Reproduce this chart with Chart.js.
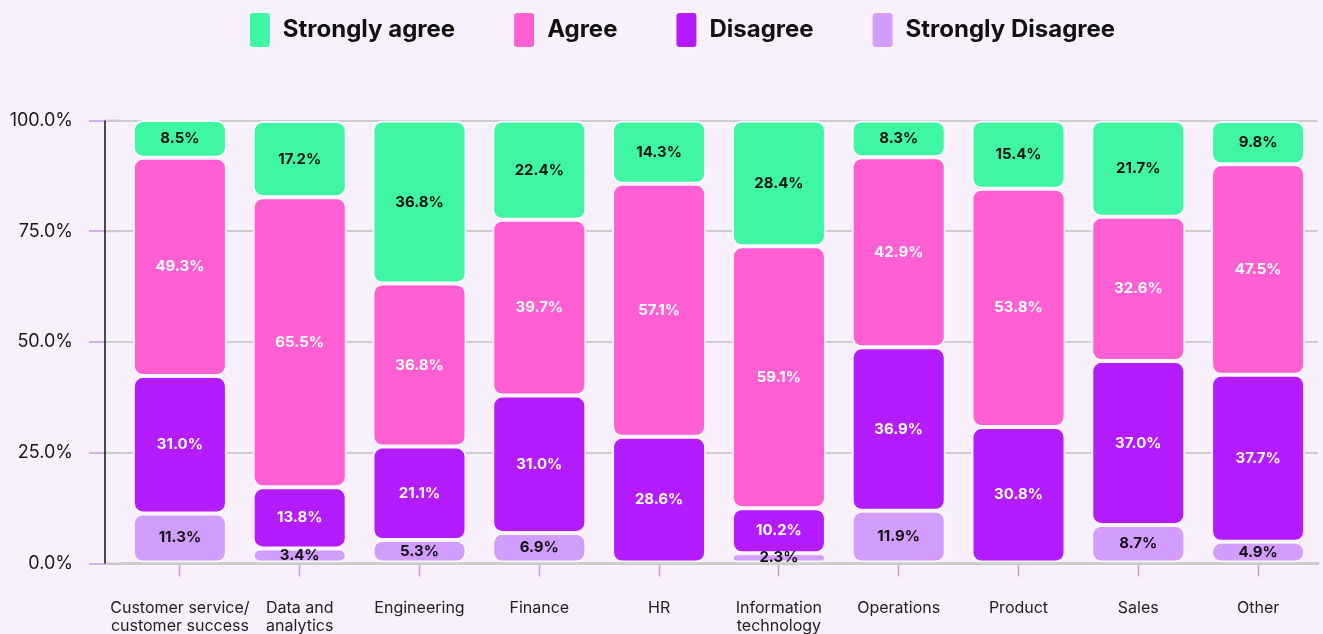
<!DOCTYPE html>
<html>
<head>
<meta charset="utf-8">
<script src="https://cdn.jsdelivr.net/npm/chart.js@4.4.1/dist/chart.umd.min.js"></script>
<style>
  html, body { margin: 0; padding: 0; background: #f8f0fd; }
  #wrap { width: 1323px; height: 634px; position: relative; }
</style>
</head>
<body>
<div id="wrap"><canvas id="grafico"></canvas></div>
<script>
const categories = [
  ["Customer service/", "customer success"],
  ["Data and", "analytics"],
  "Engineering",
  "Finance",
  "HR",
  ["Information", "technology"],
  "Operations",
  "Product",
  "Sales",
  "Other",
];
const stronglyAgree = [8.5, 17.2, 36.8, 22.4, 14.3, 28.4, 8.3, 15.4, 21.7, 9.8];
const agree = [49.3, 65.5, 36.8, 39.7, 57.1, 59.1, 42.9, 53.8, 32.6, 47.5];
const disagree = [31.0, 13.8, 21.1, 31.0, 28.6, 10.2, 36.9, 30.8, 37.0, 37.7];
const stronglyDisagree = [11.3, 3.4, 5.3, 6.9, 0, 2.3, 11.9, 0, 8.7, 4.9];
const yTicks = [0, 25, 50, 75, 100];

const gridColor = "#cdcdcd";
const tickColor = "#c99be0";

const radius = { topLeft: 10, topRight: 10, bottomLeft: 10, bottomRight: 10 };

function serie(label, data, color, textColor) {
  return {
    label,
    data,
    textColor,
    backgroundColor: color,
    borderColor: "#fbf6fe",
    borderWidth: 2,
    borderSkipped: false,
    borderRadius: radius,
    barPercentage: 0.785,
    categoryPercentage: 1,
    clip: 4,
  };
}

// values written inside each segment
const barLabels = {
  id: "barLabels",
  afterDatasetsDraw(chart) {
    const ctx = chart.ctx;
    ctx.save();
    ctx.font = "bold 15px Inter";
    ctx.textAlign = "center";
    ctx.textBaseline = "middle";
    chart.data.datasets.forEach((ds, i) => {
      chart.getDatasetMeta(i).data.forEach((bar, j) => {
        const v = ds.data[j];
        if (!v) return;
        ctx.fillStyle = ds.textColor;
        ctx.fillText(v.toFixed(1) + "%", bar.x, (bar.y + bar.base) / 2);
      });
    });
    ctx.restore();
  },
};

// black y line sits a bit left of the first category; legend nudged right
const yLine = {
  id: "yLine",
  afterLayout(chart) {
    chart.legend.left += 23;
    chart.legend.right += 23;
  },
  beforeDatasetsDraw(chart) {
    const { ctx, chartArea, scales } = chart;
    const x0 = chartArea.left - 15;
    ctx.save();
    ctx.strokeStyle = gridColor;
    ctx.lineWidth = 2;
    scales.y.ticks.forEach((t) => {
      const py = scales.y.getPixelForValue(t.value);
      ctx.beginPath();
      ctx.moveTo(x0, py);
      ctx.lineTo(chartArea.left, py);
      ctx.stroke();
    });
    ctx.strokeStyle = "#111";
    ctx.lineWidth = 1.5;
    ctx.beginPath();
    ctx.moveTo(x0, chartArea.top);
    ctx.lineTo(x0, chartArea.bottom);
    ctx.stroke();
    ctx.restore();
  },
};

new Chart(document.getElementById("grafico"), {
  type: "bar",
  data: {
    labels: categories,
    datasets: [
      serie("Strongly Disagree", stronglyDisagree, "#d39cff", "#111"),
      serie("Disagree", disagree, "#b41bff", "#fff"),
      serie("Agree", agree, "#ff5fd2", "#fff"),
      serie("Strongly agree", stronglyAgree, "#3ff7a2", "#111"),
    ],
  },
  options: {
    responsive: true,
    maintainAspectRatio: false,
    animation: false,
    events: [],
    layout: { padding: { top: -46, left: 0, right: 5, bottom: 0 } },
    plugins: {
      tooltip: { enabled: false },
      legend: {
        position: "top",
        reverse: true,
        labels: {
          boxWidth: 22,
          boxHeight: 36,
          padding: 58,
          useBorderRadius: true,
          borderRadius: 4,
          color: "#111",
          font: { family: "Inter", size: 24, weight: "bold" },
        },
      },
      title: {
        display: true,
        text: "",
        weight: 500,
        font: { size: 10, lineHeight: 1 },
        padding: { top: 0, bottom: 52.5 },
      },
    },
    scales: {
      x: {
        stacked: true,
        afterFit: (s) => { s.height = 70.5; },
        grid: {
          offset: false,
          drawOnChartArea: false,
          tickLength: 13,
          tickColor: tickColor,
          tickWidth: 1.5,
        },
        border: { color: gridColor, width: 3 },
        ticks: {
          padding: 22,
          color: "#222",
          font: { family: "Inter", size: 16, lineHeight: 1.15 },
          maxRotation: 0,
          autoSkip: false,
        },
      },
      y: {
        stacked: true,
        min: 0,
        max: 100,
        afterFit: (s) => { s.width = 120; },
        afterBuildTicks: (s) => { s.ticks = yTicks.map((v) => ({ value: v })); },
        grid: {
          color: gridColor,
          lineWidth: 2,
          tickLength: 31,
          tickColor: tickColor,
          tickWidth: 1.5,
        },
        border: { display: false },
        ticks: {
          padding: 16,
          color: "#1a1a1a",
          font: { family: "Inter", size: 18 },
          callback: (v) => Number(v).toFixed(1) + "%",
        },
      },
    },
  },
  plugins: [barLabels, yLine],
});
</script>
</body>
</html>
